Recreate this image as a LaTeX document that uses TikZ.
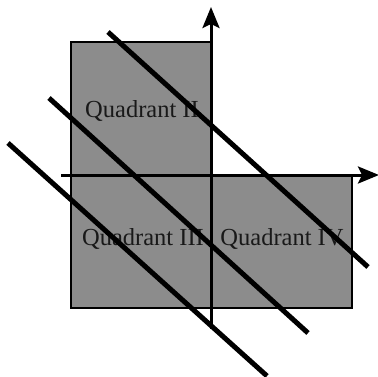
\documentclass[tikz,border=0pt]{standalone}
\usepackage{fontspec}
\setmainfont{Liberation Serif}
\usetikzlibrary{arrows.meta}
\definecolor{quadgray}{HTML}{8C8C8C}
\tikzset{
  quad/.style={fill=quadgray,draw=black,line width=2pt},
  axis/.style={line width=3pt,-{Stealth[length=21pt,width=17pt,inset=4pt]}},
  cut/.style={line width=5pt},
  lbl/.style={font=\fontsize{24.5}{26}\selectfont,text=black!90,inner sep=0pt}
}
\begin{document}
\begin{tikzpicture}[x=1pt,y=-1pt]
\useasboundingbox (0,0) rectangle (378,376);
\fill[quadgray] (71,42) rectangle (211,175);
\fill[quadgray] (71,175) rectangle (352,308);
\draw[line width=2pt] (71,175) -- (71,42) -- (211,42);
\draw[line width=2pt] (71,175) -- (71,308) -- (352,308) -- (352,175);
\node[lbl] (q2) at (142,111) {Quadrant II};
\node[lbl] (q3) at (143,239) {Quadrant III};
\node[lbl] (q4) at (282,239) {Quadrant IV};
\coordinate (ybot) at (211,329);
\coordinate (ytop) at (211,7);
\coordinate (xleft) at (61,175);
\coordinate (xright) at (379,175);
\draw[axis] (ybot) -- (ytop);
\draw[axis] (xleft) -- (xright);
\coordinate (a1) at (108,32);
\coordinate (b1) at (368,267);
\coordinate (a2) at (49,98);
\coordinate (b2) at (308,333);
\coordinate (a3) at (8,143);
\coordinate (b3) at (267,376);
\draw[cut] (a1) -- (b1);
\draw[cut] (a2) -- (b2);
\draw[cut] (a3) -- (b3);
\end{tikzpicture}
\end{document}
